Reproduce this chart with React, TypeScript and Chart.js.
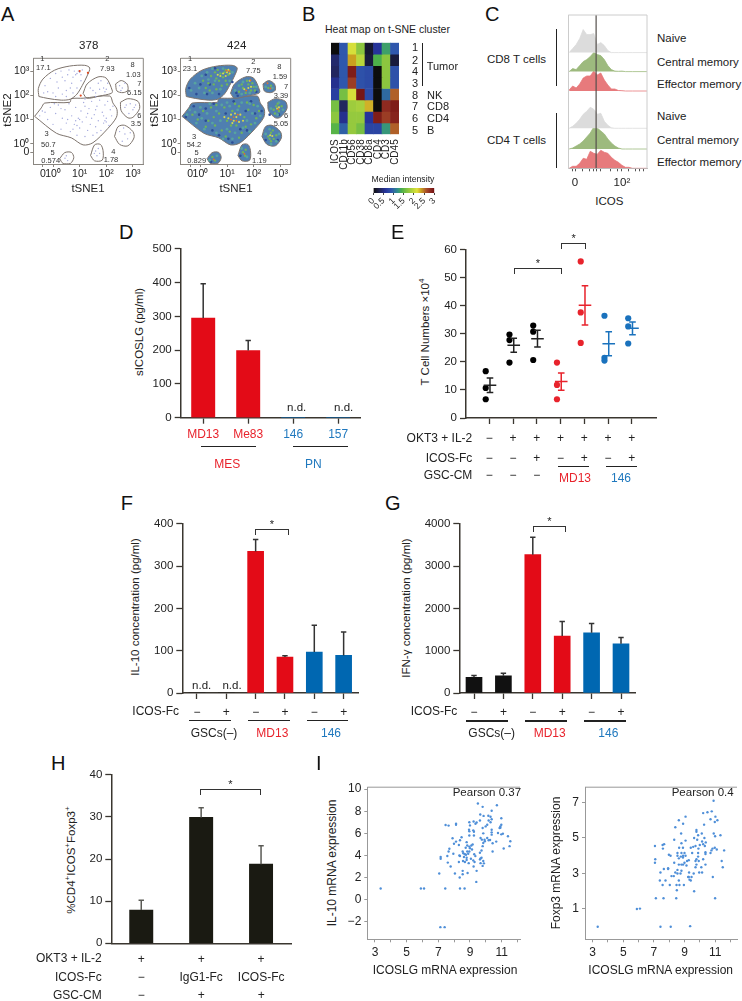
import React, { useEffect, useMemo, useRef } from "react";
import { Chart, registerables } from "chart.js";

Chart.register(...registerables);
const FONT = '"Liberation Sans", Arial, sans-serif';
Chart.defaults.font.family = FONT;

/* ---------- Panel A ---------- */
const decadeTicksX = [-0.38, 0, 1, 2, 3];
const decadeTicksY = [-0.36, 0, 1, 2, 3];
const decadeLabels = ["0", "10⁰", "10¹", "10²", "10³"];
const gate1 = [[-0.53,1.95],[-0.55,2.28],[-0.38,2.67],[0.06,3.04],[0.63,3.21],[1.19,3.24],[1.38,3.13],[1.28,2.8],[1.1,2.41],[0.9,2.05],[0.65,1.84],[0.31,1.8],[-0.19,1.87],[-0.53,1.95]];
const gate2 = [[1.13,2.08],[1.28,2.47],[1.69,2.76],[2.0,2.71],[2.23,2.18],[2.19,2.08],[1.75,1.97],[1.28,1.88],[1.13,2.08]];
const gate3 = [[-0.69,1.13],[-0.44,1.48],[-0.31,1.68],[0.63,1.71],[0.69,1.86],[1.13,1.88],[2.13,1.97],[2.25,1.68],[2.4,1.42],[2.38,1.09],[2.06,0.63],[1.5,0.04],[1.13,-0.05],[0.69,0.24],[0.13,0.43],[-0.69,1.13]];
const gate8 = [[2.35,2.47],[2.56,2.61],[2.78,2.47],[2.81,2.21],[2.63,2.11],[2.4,2.18],[2.35,2.47]];
const gate7 = [[2.53,1.71],[2.81,1.86],[3.19,1.75],[3.25,1.45],[3.0,1.09],[2.81,1.07],[2.56,1.36],[2.53,1.71]];
const gate6 = [[2.31,0.3],[2.44,0.7],[2.69,0.76],[3.0,0.5],[3.04,0.24],[2.81,-0.09],[2.5,-0.03],[2.31,0.3]];
const gate4 = [[1.41,-0.49],[1.56,-0.05],[1.78,-0.03],[1.88,-0.29],[1.85,-0.68],[1.56,-0.71],[1.41,-0.49]];
const gate5 = [[0.25,-0.62],[0.44,-0.37],[0.69,-0.36],[0.78,-0.58],[0.65,-0.82],[0.38,-0.82],[0.25,-0.62]];
const allGates = [gate1, gate2, gate3, gate8, gate7, gate6, gate4, gate5];
const sparse378 = [[-0.3,2.4],[-0.1,2.7],[0.1,2.9],[0.3,3.0],[0.45,2.6],[0.2,2.3],[0.0,2.1],[-0.2,2.15],[0.5,2.2],[0.7,2.5],[0.85,2.85],[0.95,3.0],[1.0,2.95],[0.9,2.9],[1.05,2.85],[1.1,3.05],[0.8,3.0],[0.6,3.05],[0.35,2.75],[0.55,2.85],[0.65,2.3],[0.35,2.05],[0.15,2.55],[-0.35,2.1],[0.9,2.3],[0.75,2.1],[0.5,1.95],[0.1,1.95],[1.05,2.6],[0.75,2.75],[1.5,2.2],[1.7,2.5],[1.9,2.3],[2.0,2.25],[1.95,2.15],[1.6,2.1],[1.8,2.6],[1.4,2.3],[2.05,2.5],[1.75,2.25],[-0.5,1.15],[-0.3,1.3],[-0.2,1.0],[-0.1,1.5],[0.0,0.8],[0.1,1.25],[0.2,1.6],[0.3,0.6],[0.35,1.05],[0.45,1.4],[0.5,0.85],[0.6,1.65],[0.65,0.5],[0.7,1.15],[0.8,0.8],[0.85,1.5],[0.9,0.35],[0.95,1.05],[1.0,0.65],[1.05,1.35],[1.1,0.9],[1.15,1.7],[1.2,0.3],[1.25,1.1],[1.3,0.55],[1.35,1.45],[1.4,0.8],[1.45,1.75],[1.5,0.35],[1.55,1.2],[1.6,0.7],[1.65,1.55],[1.7,0.95],[1.75,1.8],[1.8,0.55],[1.85,1.3],[1.9,0.85],[1.95,1.6],[2.0,1.05],[2.05,1.75],[2.1,0.75],[2.15,1.4],[2.2,1.15],[2.25,1.55],[0.05,1.65],[-0.4,1.35],[0.55,1.0],[0.75,0.6],[1.0,1.0],[1.2,1.55],[1.45,1.05],[1.65,0.45],[1.9,1.15],[1.95,0.95],[2.0,0.9],[0.85,0.95],[0.9,0.75],[0.3,1.45],[1.3,1.25],[1.6,1.4],[2.5,2.4],[2.6,2.3],[2.7,2.5],[2.55,2.2],[2.7,1.5],[2.9,1.65],[3.0,1.4],[3.1,1.6],[2.85,1.25],[3.05,1.5],[2.75,1.6],[2.5,0.5],[2.7,0.4],[2.8,0.2],[2.6,0.1],[2.9,0.45],[2.65,0.65],[1.6,-0.3],[1.7,-0.2],[1.65,-0.5],[1.75,-0.4],[1.55,-0.4],[0.45,-0.6],[0.5,-0.5],[0.55,-0.7],[1.6,1.95],[1.2,1.85]];
const hot378 = [[1.31,2.93],[1.04,1.99],[1.0,3.0]];
const teal424 = [[-0.35,2.2],[-0.2,2.5],[-0.05,2.3],[0.05,2.8],[0.25,2.95],[0.15,2.1],[0.45,2.1],[0.75,2.25],[0.55,2.6],[0.3,2.65],[1.1,2.6],[1.2,2.95],[0.85,3.1],[0.45,3.1],[1.3,2.2],[1.45,2.4],[1.6,2.55],[1.85,2.1],[2.1,2.35],[1.55,2.05],[-0.5,1.2],[-0.4,1.4],[-0.2,1.3],[-0.15,0.85],[0,1.5],[0.05,1.05],[0.15,0.6],[0.25,1.25],[0.35,1.65],[0.45,0.85],[0.6,0.45],[0.6,1.35],[0.75,0.95],[0.8,1.6],[0.85,0.2],[1,0.6],[1,1.7],[1.1,1.55],[1.2,0.2],[1.3,0.45],[1.4,1.4],[1.55,1.7],[1.6,0.65],[1.75,0.95],[1.85,1.65],[1.95,1.25],[2.05,0.85],[2.15,1.55],[2.25,1.15],[1.85,0.5],[2.65,1.45],[2.95,1.7],[3.1,1.4],[2.9,1.2],[2.45,0.4],[2.6,0.6],[2.85,0.1],[2.95,0.4],[2.65,-0.02],[2.45,2.35],[2.7,2.3],[1.55,-0.2],[1.75,-0.55],[0.35,-0.68],[0.62,-0.5]];
const navy424 = [[-0.42,2.3],[-0.15,2.05],[0.0,2.45],[0.25,2.05],[0.35,2.45],[0.7,2.05],[0.2,2.85],[0.55,3.12],[1.2,2.55],[1.35,2.1],[2.1,2.15],[1.4,1.98],[-0.55,1.1],[-0.25,1.55],[-0.05,1.2],[0.2,0.95],[0.2,1.45],[0.45,0.55],[0.5,1.65],[0.7,0.35],[0.95,1.25],[1.05,0.2],[1.25,1.75],[1.5,0.6],[1.7,1.35],[1.9,1.75],[2.05,1.25],[2.3,1.35],[1.75,0.55],[1.2,0.05],[2.95,1.2],[2.6,1.2],[2.45,0.15],[2.9,0.15],[1.5,-0.5],[0.4,-0.75]];
const green424 = [[0.3,2.5],[0.5,2.45],[0.6,2.7],[0.7,2.6],[0.85,2.75],[0.95,2.6],[0.4,2.8],[0.55,2.95],[0.75,2.9],[0.9,2.95],[1.05,2.85],[1.1,3.0],[0.8,2.4],[0.6,2.25],[0.2,2.3],[0.1,2.6],[1.0,2.45],[0.65,3.05],[0.35,2.2],[0.95,3.05],[1.45,2.15],[1.6,2.3],[1.7,2.1],[1.8,2.45],[1.9,2.2],[2.0,2.35],[1.55,2.45],[1.75,2.6],[1.95,2.5],[2.05,2.2],[-0.3,1.2],[-0.1,1.0],[0.1,1.35],[0.3,0.95],[0.4,1.5],[0.55,0.75],[0.7,1.25],[0.8,0.55],[0.9,1.5],[1.0,0.95],[1.1,0.5],[1.2,1.35],[1.35,0.75],[1.45,1.55],[1.55,0.45],[1.65,1.1],[1.8,1.4],[1.9,0.8],[2.0,1.6],[2.1,1.05],[0.2,0.7],[0.6,1.6],[1.3,1.65],[1.7,0.7],[2.2,1.35],[0.95,0.3],[1.45,0.25],[0.5,1.1],[1.15,0.75],[1.75,1.7],[2.75,1.4],[2.85,1.55],[2.95,1.35],[3.05,1.55],[2.8,1.25],[2.9,1.65],[2.55,0.3],[2.65,0.45],[2.75,0.2],[2.85,0.35],[2.65,0.1],[2.72,0.55],[2.6,0.2],[2.55,2.3],[2.65,2.4],[1.6,-0.35],[1.7,-0.25],[1.68,-0.5],[0.45,-0.55],[0.55,-0.7]];
const yellow424 = [[0.75,2.8],[0.85,2.9],[0.95,2.8],[1.05,3.05],[1.0,2.95],[0.65,2.85],[1.1,2.9],[1.65,2.25],[1.8,2.3],[1.9,2.35],[1.85,2.6],[1.05,1.05],[1.15,1.2],[1.25,0.95],[1.35,1.1],[1.45,0.9],[1.3,1.25],[1.5,1.2],[1.2,0.85],[0.9,1.1],[1.6,0.95],[2.88,1.45],[2.95,1.5],[2.7,0.32],[2.62,0.35]];
const orange424 = [[1.08,3.0],[0.98,3.02],[1.88,2.62],[1.72,2.2],[1.25,1.1],[1.35,0.95],[1.4,1.2],[1.15,1.0],[2.92,1.42],[2.63,2.28],[2.52,2.5],[1.65,-0.42],[0.5,-0.65]];
const gateLabels378 = [["1",42.3,59],["17.1",43.3,68.3],["2",107.3,59.3],["7.93",107.3,69.3],["8",132.7,65],["1.03",133.3,75],["7",139.3,84.3],["6.15",134.3,93.3],["6",139.3,116],["3.5",136,124],["3",46.7,134.3],["50.7",48.3,144.7],["5",52.7,153.3],["0.574",50.7,161.3],["4",113.3,152.3],["1.78",111,160.3]];
const gateLabels424 = [["1",190,59.3],["23.1",190,69],["2",253.3,62],["7.75",253.3,71.3],["8",279.3,66.7],["1.59",280,76.7],["7",286,86.7],["3.39",281,96],["6",286,115.7],["5.05",281,124],["3",194,136.7],["54.2",194,145.3],["5",196.7,153.3],["0.829",196.7,161.3],["4",259.3,152.7],["1.19",259.3,161.3]];

/* ---------- Panel B ---------- */
const heatColumns = ["ICOS", "CD11b", "CD56", "CD38", "CD8a", "CD4", "CD3", "CD45"];
const heatRowNames = ["1", "2", "4", "3", "8", "7", "6", "5"];
const heatValues = [
  [0.0, 0.9, 2.1, 1.7, 0.15, 0.6, 1.3, 0.9],
  [0.4, 0.9, 2.35, 1.95, 0.2, 1.4, 1.7, 0.2],
  [0.35, 0.9, 2.9, 0.85, 0.8, 0.0, 1.7, 0.85],
  [0.55, 0.9, 2.7, 0.85, 0.8, 0.0, 1.7, 0.85],
  [0.7, 1.6, 2.1, 2.95, 0.8, 0.0, 1.0, 2.55],
  [1.6, 0.35, 1.8, 1.85, 2.3, 0.0, 2.8, 2.9],
  [1.7, 0.55, 1.75, 1.75, 0.6, 2.9, 2.7, 2.85],
  [1.45, 0.95, 1.75, 1.6, 0.75, 0.75, 1.25, 2.55],
];
const colorStops: [number, number[]][] = [
  [0, [13, 13, 13]], [0.35, [34, 38, 95]], [0.6, [38, 51, 154]], [0.9, [47, 87, 172]], [1.2, [47, 143, 138]],
  [1.4, [77, 176, 74]], [1.7, [140, 198, 63]], [2.0, [194, 217, 58]], [2.15, [224, 226, 58]], [2.35, [202, 160, 32]],
  [2.6, [169, 80, 42]], [2.8, [142, 42, 32]], [3, [112, 16, 16]],
];
const colorBarTicks = ["0", "0.5", "1", "1.5", "2", "2.5", "3"];

/* ---------- Panel C ---------- */
const histBins = [-0.25, -0.1, 0.05, 0.2, 0.35, 0.5, 0.65, 0.8, 0.95, 1.1, 1.25, 1.4, 1.55, 1.7, 1.85, 2.0, 2.15, 2.3, 2.45, 3.07];
const cd8Naive = [0, 4, 8, 14, 23, 18, 18, 19, 8, 10, 7, 2, 0, 0, 0, 0, 0, 0, 0, 0];
const cd8Central = [0, 3, 2, 6, 10, 12, 15, 19, 17, 16, 12, 6, 2, 0.5, 0.3, 0.5, 0, 0, 0, 0];
const cd8Effector = [1, 5, 3, 7, 13, 15, 15, 20, 16, 18, 11, 6, 2, 2, 0.5, 0.3, 0, 0, 0, 0];
const cd4Naive = [0, 2, 5, 9, 14, 17, 21, 19, 14, 15, 7, 3, 0.5, 0, 0, 0, 0, 0, 0, 0];
const cd4Central = [0, 1, 3, 5, 8, 12, 16, 22, 21, 18, 15, 10, 6, 3, 1, 0, 0, 0, 0, 0];
const cd4Effector = [0, 2, 2, 5, 10, 9, 17, 15, 14, 18, 16, 15, 11, 8, 6, 3, 1, 1, 0, 0];
const histMinorTicks = [-0.1, 0, 0.3, 0.6, 0.8, 0.9, 1.1, 1.5, 1.8, 2, 2.3, 2.6, 2.75, 2.9];
const icosCutoff = 0.9;

/* ---------- Panel D ---------- */
const sicosCategories = ["MD13", "Me83", "146", "157"];
const sicosValues = [295, 199, 0, 0];
const sicosErrors = [102, 30, 0, 0];

/* ---------- Panel E ---------- */
const okt3Row = ["−", "+", "+", "+", "+", "+", "+"];
const icosFcRow = ["−", "−", "+", "−", "+", "−", "+"];
const gscCmRow = ["−", "−", "−"];
const tcellGroups = [[16.7, 10.7, 6.7], [29.8, 27.8, 19.8], [33, 30.8, 20.7], [19.8, 11.8, 6.7], [55.9, 37.7, 26.8], [36.5, 21.5, 20.5], [35.6, 32.7, 26.6]];
const tcellMeans = [11.7, 26, 28.3, 13, 40.2, 26.5, 32];
const tcellSem = [2.6, 2.5, 3, 3.1, 7, 4.3, 2.3];

/* ---------- Panels F, G ---------- */
const icosRow = ["−", "+", "−", "+", "−", "+"];
const il10Values = [0, 0, 335, 85, 97, 89];
const il10Errors = [0, 0, 28, 3, 63, 55];
const ifnValues = [370, 407, 3272, 1346, 1425, 1166];
const ifnErrors = [45, 63, 415, 344, 219, 149];

/* ---------- Panel H ---------- */
const hOkt3 = ["+", "+", "+"];
const hIcos = ["−", "IgG1-Fc", "ICOS-Fc"];
const hGsc = ["−", "+", "+"];
const foxpValues = [7.9, 29.9, 18.8];
const foxpErrors = [2.3, 2.3, 4.4];

/* ---------- Panel I ---------- */
const il10Scatter = [[3.36,1],[5.9,1],[6.1,1],[7.44,1],[8.37,1],[8.66,1],[7.13,-2.5],[7.4,-2.5],[7.06,2.36],[8.05,2.36],[8.35,2],[8.54,2.3],[8.54,2.6],[9.4,1.6],[8.85,2.4],[9.42,2.6],[9.23,3],[9.8,3.05],[7.46,6.75],[7.65,6.7],[8.12,6.87],[8.12,6.78],[7.15,3.85],[7.15,3.7],[7.6,3.35],[7.78,3],[7.57,3.95],[7.7,4.6],[7.65,4.35],[7.95,4.15],[7.9,5.55],[7.99,5.05],[8.12,5.25],[8.37,5.37],[8.47,5.64],[8.3,4.95],[8.33,4],[8.37,3.95],[8.3,3.4],[8.56,3.5],[8.68,3.4],[8.54,4.35],[8.58,4.2],[8.68,4.1],[8.62,3.85],[8.79,3.79],[8.79,3.58],[8.92,3.3],[8.73,4.7],[8.83,4.9],[8.96,4.8],[8.79,5.2],[9.09,4.9],[9.17,5],[9,4.66],[9.13,4.54],[8.96,4.36],[8.83,4.36],[8.89,4.15],[8.75,4.06],[9.06,3.7],[9.21,3.55],[9.29,3.4],[9.67,3.3],[8.96,7],[9,6.72],[8.94,6.33],[8.96,6.18],[9.21,6.27],[9.25,6.15],[8.96,5.8],[9.25,5.8],[9.23,7.07],[9.42,6.98],[9.35,6.87],[9.63,7.16],[9.65,7.7],[9.86,7.58],[9.5,8.7],[9.8,8.4],[10.37,8.05],[10.7,8.55],[10.16,7.6],[10.3,7.5],[10.37,7.28],[10.18,7.16],[10.3,7],[10.09,6.78],[9.8,6.48],[9.99,6.63],[10.37,6.33],[10.37,6.09],[10.37,5.88],[9.84,6],[10.09,5.58],[9.92,5.43],[9.67,5.58],[9.75,5.43],[9.84,5.13],[9.94,5.28],[9.8,4.84],[9.73,4.45],[9.63,4.24],[9.73,3.79],[9.63,3.64],[9.84,3.49],[9.88,3.28],[9.27,4.1],[9.34,3.94],[9.67,3.73],[10.98,7.37],[10.98,6.78],[10.92,6.63],[10.87,6.48],[10.77,6.03],[10.98,5.91],[11.08,5.97],[11.4,5.73],[11.55,5.28],[11.5,4.84],[11.13,4.63],[10.43,4.36],[10.92,6.5],[10.66,5.25],[10.43,5.1],[10.27,5.4],[10.18,5.37]];
const foxp3Scatter = [[3.33,0],[5.89,1],[6.09,1.02],[7.43,0],[8.1,0],[9.37,0.03],[7.13,1.6],[7.63,1.6],[8.46,1.6],[11,1.6],[7.07,4.55],[7.57,4.6],[7.67,4.65],[7.59,4.4],[7.09,3.8],[7.07,3.6],[7.43,3.05],[7.65,3.25],[7.93,3.25],[7.93,3.3],[7.39,2.6],[7.76,2.6],[7.57,2.35],[8.04,2.35],[7.98,4.05],[8.09,4],[8.15,2.85],[8.3,2.85],[8.4,3.05],[8.63,2.6],[8.48,2.35],[8.67,2.35],[8.96,2.35],[8.5,2.05],[8.33,4.9],[8.4,5.6],[8.63,6],[8.78,5.25],[8.91,5.8],[9.07,6.2],[9.07,4.85],[8.8,4.7],[8.65,4.45],[8.9,4.45],[8.54,4.15],[8.54,4],[8.63,3.85],[8.8,4.15],[9,4.15],[8.76,3.95],[8.91,4],[9.07,4],[8.9,3.9],[8.33,3.6],[8.63,3.5],[8.8,3.5],[8.91,3.5],[9,3.6],[9.17,3.7],[9.28,3.75],[9.13,3.45],[8.54,3.2],[8.8,3.15],[8.54,3],[8.74,3],[9.3,3.05],[9.6,3],[9.28,2.8],[9.46,2.8],[9.24,2.8],[9.41,2.6],[9.33,2.65],[9.63,2],[9.41,4.45],[9.57,4.5],[9.72,4.55],[9.63,5],[9.78,5.45],[9.78,5.35],[9.83,4.9],[9.91,4.4],[9.5,4.15],[9.78,3.8],[9.72,3.7],[9.78,3.5],[9.72,3.35],[9.89,4.15],[9.89,3.95],[9.93,3.7],[10.1,3.35],[9.96,3.05],[10.15,3.05],[9.89,5.15],[10.13,5.25],[10.3,5],[10.39,4.75],[10.15,4.8],[10.22,4.65],[10,4.6],[10.33,4.55],[10.37,4.2],[10.37,4.1],[10.22,3.8],[10.37,3.5],[10.76,4.3],[10.7,4.15],[10.83,4.4],[10.22,6.4],[10.5,6.45],[10.78,6.5],[10.7,6.05],[10.98,5.9],[11.02,6.2],[11.15,6],[10.28,5.75],[10.91,5.25],[11,5.1],[11.35,5.15],[10.98,4.45],[11.11,4.35],[11.59,4.3],[11.43,3.7],[11.5,3.35],[10.85,2.8],[10.9,7.1]];

/* ---------- colours ---------- */
const RED = "#e30b17", BLUE = "#0067b1", LRED = "#e8232c", LBLUE = "#1f78be", INK = "#222", AXIS = "#3a3630";

function heatColor(v: number) {
  for (let i = 1; i < colorStops.length; i++) {
    if (v <= colorStops[i][0]) {
      const [a, ca] = colorStops[i - 1], [b, cb] = colorStops[i];
      const t = (v - a) / (b - a);
      const m = ca.map((c, k) => Math.round(c + (cb[k] - c) * t));
      return `rgb(${m[0]},${m[1]},${m[2]})`;
    }
  }
  return "rgb(112,16,16)";
}
const pts = (a: number[][]) => a.map(([x, y]) => ({ x, y }));

/* ---------- plugins ---------- */
const errPlugin = {
  id: "errs",
  afterDatasetsDraw(chart: any) {
    const c = chart.ctx, ys = chart.scales.y;
    chart.data.datasets.forEach((ds: any, i: number) => {
      if (!ds.errs) return;
      const meta = chart.getDatasetMeta(i);
      c.save();
      c.strokeStyle = ds.errColor || "#333";
      c.lineWidth = 1.5;
      meta.data.forEach((el: any, j: number) => {
        const e = ds.errs[j];
        if (!e) return;
        const v = typeof ds.data[j] === "number" ? ds.data[j] : ds.data[j].y;
        const x = el.x, top = ys.getPixelForValue(v + e), cap = ds.capHalf || 2.5;
        const bot = ds.errBoth ? ys.getPixelForValue(v - e) : ys.getPixelForValue(v);
        c.beginPath();
        c.moveTo(x, bot); c.lineTo(x, top);
        c.moveTo(x - cap, top); c.lineTo(x + cap, top);
        if (ds.errBoth) {
          c.moveTo(x - cap, bot); c.lineTo(x + cap, bot);
          const my = ys.getPixelForValue(v);
          c.moveTo(x - 6.3, my); c.lineTo(x + 6.3, my);
        }
        c.stroke();
      });
      c.restore();
    });
  },
};
const framePlugin = (color: string, sides: string) => ({
  id: "frame",
  afterDatasetsDraw(chart: any) {
    const a = chart.chartArea, c = chart.ctx;
    c.save(); c.strokeStyle = color; c.lineWidth = 1; c.beginPath();
    if (sides.includes("t")) { c.moveTo(a.left, a.top); c.lineTo(a.right, a.top); }
    if (sides.includes("r")) { c.moveTo(a.right, a.top); c.lineTo(a.right, a.bottom); }
    c.stroke(); c.restore();
  },
});

/* ---------- chart specs ---------- */
type Spec = { plot: number[]; m: number[]; config: any };
const tickFont = (size = 11.5) => ({ size, family: FONT });
const yAxis = (min: number, max: number, step: number) => ({
  type: "linear", min, max,
  ticks: { stepSize: step, color: INK, font: tickFont(), padding: 3, callback: (v: number) => String(v) },
  grid: { display: true, drawOnChartArea: false, drawTicks: true, tickLength: 6, tickColor: AXIS, tickWidth: 1.3 },
  border: { display: true, color: AXIS, width: 1.5 },
});
const bandAxis = (labels: string[], colors: any, padding: number, marks: boolean, size = 12) => ({
  type: "category", labels,
  ticks: { color: colors, padding, font: tickFont(size), maxRotation: 0, autoSkip: false },
  grid: marks
    ? { display: true, offset: false, drawOnChartArea: false, drawTicks: true, tickLength: 6, tickColor: AXIS, tickWidth: 1.3 }
    : { display: false, drawTicks: false, tickLength: 0 },
  border: { display: true, color: AXIS, width: 1.5 },
});
function barSpec(plot: number[], m: number[], labels: string[], values: number[], errs: number[], colors: string[], yMax: number, step: number, thick: number, xAxisCfg: any, errColor = "#333"): Spec {
  return {
    plot, m,
    config: {
      type: "bar",
      data: { labels, datasets: [{ data: values, errs, errColor, backgroundColor: colors, barThickness: thick, borderWidth: 0, capHalf: 2.7 }] },
      options: { scales: { x: xAxisCfg, y: yAxis(0, yMax, step) } },
      plugins: [errPlugin],
    },
  };
}
const flowAxes = () => ({
  x: {
    type: "linear", min: -0.74, max: 3.39,
    afterBuildTicks: (s: any) => { s.ticks = decadeTicksX.map((value) => ({ value })); },
    ticks: { callback: (_: any, i: number) => decadeLabels[i], color: INK, font: tickFont(10.5), padding: 1, maxRotation: 0, autoSkip: false },
    grid: { display: true, drawOnChartArea: false, tickLength: 3, tickColor: "#8a8680" },
    border: { display: true, color: "#8a8680", width: 1 },
  },
  y: {
    type: "linear", min: -0.84, max: 3.53,
    afterBuildTicks: (s: any) => { s.ticks = decadeTicksY.map((value) => ({ value })); },
    ticks: { callback: (_: any, i: number) => decadeLabels[i], color: INK, font: tickFont(10.5), padding: 1, autoSkip: false },
    grid: { display: true, drawOnChartArea: false, tickLength: 3, tickColor: "#8a8680" },
    border: { display: true, color: "#8a8680", width: 1 },
  },
});
const gateSets = (fill: string | null) =>
  allGates.map((g) => ({
    type: "scatter", data: pts(g), showLine: true, tension: 0.3, pointRadius: 0,
    borderColor: "#7d736c", borderWidth: 1,
    fill: fill ? "shape" : false, backgroundColor: fill || "transparent", order: 9,
  }));
const dots = (a: number[][], color: string, r: number, order = 1) => ({
  type: "scatter", data: pts(a), backgroundColor: color, borderWidth: 0, pointRadius: r, order,
});
const scatterSpec = (plot: number[], m: number[], data: number[][], xr: number[], yr: number[], yt: number[]): Spec => ({
  plot, m,
  config: {
    type: "scatter",
    data: { datasets: [{ data: pts(data), backgroundColor: "#4f8fd8", borderWidth: 0, pointRadius: 1.2 }] },
    options: {
      scales: {
        x: {
          type: "linear", min: xr[0], max: xr[1],
          afterBuildTicks: (s: any) => { s.ticks = [3, 4, 5, 6, 7, 8, 9, 10, 11, 12].map((value) => ({ value })); },
          ticks: { callback: (v: number) => (v % 2 ? String(v) : ""), color: INK, font: tickFont(12), padding: 3, maxRotation: 0, autoSkip: false },
          grid: { display: true, drawOnChartArea: false, tickLength: 3, tickColor: "#999" },
          border: { display: true, color: "#999", width: 1 },
        },
        y: {
          type: "linear", min: yr[0], max: yr[1],
          afterBuildTicks: (s: any) => { s.ticks = yt.map((value) => ({ value })); },
          ticks: { callback: (v: number) => String(v).replace("-", "−"), color: INK, font: tickFont(12), padding: 3, autoSkip: false },
          grid: { display: true, drawOnChartArea: false, tickLength: 3, tickColor: "#999" },
          border: { display: true, color: "#999", width: 1 },
        },
      },
    },
    plugins: [framePlugin("#999", "t")],
  },
});

function buildSpecs(): Spec[] {
  const specs: Spec[] = [];
  // A
  specs.push({
    plot: [33.3, 53.3, 143.3, 164], m: [33, 2, 6, 18],
    config: {
      type: "scatter",
      data: { datasets: [...gateSets(null), dots(sparse378, "#a4a9dd", 0.7), dots(hot378, "#e04a20", 1.1, 0)] },
      options: { scales: flowAxes() },
      plugins: [framePlugin("#8a8680", "tr")],
    },
  });
  specs.push({
    plot: [180.7, 53.3, 290.7, 164], m: [33, 2, 6, 18],
    config: {
      type: "scatter",
      data: {
        datasets: [
          ...gateSets("#4f7fb0"),
          dots(navy424, "#2c4d96", 1.3, 6), dots(teal424, "#57a3a0", 1.4, 5),
          dots(green424, "#6fb45c", 1.2, 3), dots(yellow424, "#d7d84a", 1.05, 2), dots(orange424, "#e0702c", 0.95, 1),
        ],
      },
      options: { scales: flowAxes() },
      plugins: [framePlugin("#8a8680", "tr")],
    },
  });
  // B heat map
  specs.push({
    plot: [331, 42.7, 408, 134.3], m: [4, 2, 4, 38],
    config: {
      type: "bar",
      data: {
        labels: heatColumns,
        datasets: heatValues.map((row, r) => ({
          label: heatRowNames[r],
          data: row.map(() => [r, r + 1]),
          backgroundColor: row.map(heatColor),
          borderWidth: 0,
          grouped: false,
          barPercentage: 1,
          categoryPercentage: 1,
        })),
      },
      options: {
        scales: {
          x: {
            type: "category",
            ticks: { minRotation: 90, maxRotation: 90, autoSkip: false, color: INK, font: tickFont(10), padding: 5 },
            grid: { display: false, drawTicks: false, tickLength: 0 },
            border: { display: false },
          },
          y: {
            type: "linear", min: 0, max: 8, reverse: true,
            ticks: { display: false },
            grid: { display: false, drawTicks: false, tickLength: 0 },
            border: { display: false },
          },
        },
      },
    },
  });
  // B colour bar
  specs.push({
    plot: [373.3, 188, 434.3, 193], m: [12, 1, 12, 24],
    config: {
      type: "bar",
      data: {
        labels: ["Median intensity"],
        datasets: [{
          data: [[0, 3]], barPercentage: 1, categoryPercentage: 1, borderWidth: 0,
          backgroundColor: (c: any) => {
            const a = c.chart.chartArea;
            if (!a) return "#000";
            const g = c.chart.ctx.createLinearGradient(a.left, 0, a.right, 0);
            colorStops.forEach(([v, col]) => g.addColorStop(v / 3, `rgb(${col.join(",")})`));
            return g;
          },
        }],
      },
      options: {
        indexAxis: "y",
        scales: {
          x: {
            type: "linear", min: 0, max: 3,
            afterBuildTicks: (s: any) => { s.ticks = colorBarTicks.map((t) => ({ value: Number(t) })); },
            ticks: { callback: (_: any, i: number) => colorBarTicks[i], minRotation: 45, maxRotation: 45, autoSkip: false, color: INK, font: tickFont(8.5), padding: 1 },
            grid: { display: true, drawOnChartArea: false, tickLength: 2, tickColor: "#444" },
            border: { display: false },
          },
          y: { type: "category", ticks: { display: false }, grid: { display: false, drawTicks: false, tickLength: 0 }, border: { display: false } },
        },
      },
    },
  });
  // C ridgelines
  const ridges = [
    [cd8Naive, 115.7, "#dcdcdc"], [cd8Central, 96.7, "#9dba7e"], [cd8Effector, 77.3, "#e77a7c"],
    [cd4Naive, 40, "#dcdcdc"], [cd4Central, 19.3, "#9dba7e"], [cd4Effector, 0, "#e77a7c"],
  ] as [number[], number, string][];
  specs.push({
    plot: [568.3, 15, 647, 168.3], m: [6, 2, 8, 24],
    config: {
      type: "scatter",
      data: {
        datasets: [
          ...ridges.map(([h, base, color]) => ({
            type: "scatter", showLine: true, pointRadius: 0, tension: 0,
            data: histBins.map((x, i) => ({ x, y: base + h[i] })),
            borderColor: color, borderWidth: 0.8, backgroundColor: color, fill: { value: base }, order: 5,
          })),
          { type: "scatter", showLine: true, pointRadius: 0, data: [{ x: icosCutoff, y: 0 }, { x: icosCutoff, y: 153.3 }], borderColor: "#55504c", borderWidth: 1.2, order: 1 },
        ],
      },
      options: {
        scales: {
          x: {
            type: "linear", min: -0.286, max: 3.07,
            afterBuildTicks: (s: any) => { s.ticks = histMinorTicks.map((value) => ({ value })); },
            ticks: { callback: (v: number) => (v === 0 ? "0" : v === 2 ? "10²" : ""), color: INK, font: tickFont(11.5), padding: 5, maxRotation: 0, autoSkip: false },
            grid: { display: true, drawOnChartArea: false, tickLength: 3, tickColor: "#555" },
            border: { display: true, color: "#bbb", width: 1 },
          },
          y: {
            type: "linear", min: 0, max: 153.3,
            ticks: { display: false },
            grid: { display: false, drawTicks: false, tickLength: 0 },
            border: { display: true, color: "#ccc", width: 1 },
          },
        },
      },
      plugins: [framePlugin("#ccc", "tr")],
    },
  });
  // D
  specs.push(barSpec([180.7, 247.7, 360.7, 417.7], [30, 8, 6, 24], sicosCategories, sicosValues, sicosErrors, [RED, RED, BLUE, BLUE], 500, 100, 23.3,
    bandAxis(sicosCategories, [LRED, LRED, LBLUE, LBLUE], 4, true)));
  // E
  const groupColor = (i: number) => (i < 3 ? "#000" : i < 5 ? LRED : "#1a72bd");
  const e: any[] = [];
  tcellGroups.forEach((g, i) => {
    e.push({ type: "scatter", data: g.map((y) => ({ x: i + 1 - 0.15, y })), backgroundColor: groupColor(i), borderWidth: 0, pointRadius: 3.1 });
    e.push({ type: "scatter", data: [{ x: i + 1.03, y: tcellMeans[i] }], pointRadius: 0, errs: [tcellSem[i]], errBoth: true, errColor: i < 3 ? "#222" : groupColor(i), capHalf: 3.3 });
  });
  specs.push({
    plot: [466, 248.3, 656, 418], m: [28, 8, 6, 26],
    config: {
      type: "scatter",
      data: { datasets: e },
      options: {
        scales: {
          x: {
            type: "linear", min: 0.02, max: 8.02,
            afterBuildTicks: (s: any) => { s.ticks = okt3Row.map((_, i) => ({ value: i + 1 })); },
            ticks: { callback: (_: any, i: number) => okt3Row[i], color: INK, font: tickFont(12), padding: 7, maxRotation: 0, autoSkip: false },
            grid: { display: true, drawOnChartArea: false, tickLength: 6, tickColor: AXIS, tickWidth: 1.3 },
            border: { display: true, color: AXIS, width: 1.5 },
          },
          y: yAxis(0, 60, 10),
        },
      },
      plugins: [errPlugin],
    },
  });
  // F, G
  const fg = ["#111", "#111", RED, RED, BLUE, BLUE];
  specs.push(barSpec([182.3, 522.7, 358.3, 693], [30, 8, 6, 26], icosRow, il10Values, il10Errors, fg, 400, 100, 16, bandAxis(icosRow, INK, 6, true)));
  specs.push(barSpec([459.3, 522.7, 635.7, 693], [36, 8, 6, 26], icosRow, ifnValues, ifnErrors, fg, 4000, 1000, 16, bandAxis(icosRow, INK, 6, true)));
  // H
  specs.push(barSpec([111.3, 773.7, 291, 943.3], [30, 8, 6, 24], hOkt3, foxpValues, foxpErrors, ["#1a1a12", "#1a1a12", "#1a1a12"], 40, 10, 23.3, bandAxis(hOkt3, INK, 9, false), "#5a5a55"));
  // I
  specs.push(scatterSpec([367.3, 785.7, 520, 939.3], [26, 8, 4, 20], il10Scatter, [2.516, 12.16], [-3.6, 10.18], [-2, 0, 2, 4, 6, 8, 10]));
  specs.push(scatterSpec([585, 785.7, 737, 939.3], [26, 8, 4, 20], foxp3Scatter, [2.5, 12.43], [-0.71, 7.86], [1, 3, 5, 7]));
  return specs;
}

function geometry(s: Spec) {
  const [l, t, r, b] = s.plot, [mL, mT, mR, mB] = s.m;
  const left = Math.floor(l) - mL, top = Math.floor(t) - mT;
  const width = Math.ceil(r - left + mR), height = Math.ceil(b - top + mB);
  return { left, top, width, height, plotLeft: l - left, plotTop: t - top, padRight: width - (r - left), bottomH: height - (b - top) };
}

/* ---------- annotation helpers ---------- */
const T = ({ x, y, s = 12, c = INK, a = "c", r = 0, children }: any) => (
  <div style={{
    position: "absolute", left: x, top: y, fontSize: s, color: c, lineHeight: 1, whiteSpace: "nowrap", fontFamily: FONT,
    transform: `translate(${a === "l" ? "0" : a === "r" ? "-100%" : "-50%"},-50%) rotate(${r}deg)`,
  }}>{children}</div>
);
const Rule = ({ x1, x2, y, c = "#222", h = 1.2 }: any) => (
  <div style={{ position: "absolute", left: x1, top: y - h / 2, width: x2 - x1, height: h, background: c }} />
);
const VRule = ({ x, y1, y2, w = 1.5 }: any) => (
  <div style={{ position: "absolute", left: x - w / 2, top: y1, width: w, height: y2 - y1, background: "#222" }} />
);
const Bracket = ({ x1, x2, y }: any) => (
  <>
    <div style={{ position: "absolute", left: x1, top: y, width: x2 - x1, height: 6, boxSizing: "border-box", borderTop: "1px solid #333", borderLeft: "1px solid #333", borderRight: "1px solid #333" }} />
    <T x={(x1 + x2) / 2} y={y - 5} s={11}>*</T>
  </>
);
const Letter = ({ x, y, children }: any) => <T x={x} y={y} s={20} a="l" c="#111">{children}</T>;
const eTick = (i: number) => 466 + (i + 1 - 0.02) * 23.75;

export default function App() {
  const specs = useMemo(buildSpecs, []);
  const refs = useRef<(HTMLCanvasElement | null)[]>([]);
  useEffect(() => {
    const charts = specs.map((s, i) => {
      const g = geometry(s);
      const cfg = s.config;
      cfg.options = {
        ...cfg.options,
        animation: false, responsive: false, maintainAspectRatio: false,
        layout: { autoPadding: false, padding: { left: 0, top: g.plotTop, right: g.padRight, bottom: 0 } },
        plugins: { legend: { display: false }, tooltip: { enabled: false }, title: { display: false } },
      };
      cfg.options.scales.x.afterFit = (sc: any) => { sc.height = g.bottomH; };
      cfg.options.scales.y.afterFit = (sc: any) => { sc.width = g.plotLeft; };
      return new Chart(refs.current[i] as HTMLCanvasElement, cfg);
    });
    return () => charts.forEach((c) => c.destroy());
  }, [specs]);

  return (
    <div style={{ position: "absolute", left: 0, top: 0, width: 742, height: 1001, background: "#fff", overflow: "hidden", fontFamily: FONT }}>
      {specs.map((s, i) => {
        const g = geometry(s);
        return (
          <canvas key={i} ref={(el) => { refs.current[i] = el; }} width={g.width} height={g.height}
            style={{ position: "absolute", left: g.left, top: g.top, width: g.width, height: g.height }} />
        );
      })}

      {/* A */}
      <Letter x={1} y={14}>A</Letter>
      <T x={88.7} y={45.7} s={11.5}>378</T>
      <T x={236.7} y={45.7} s={11.5}>424</T>
      <T x={88} y={189} s={11.5}>tSNE1</T>
      <T x={236} y={189} s={11.5}>tSNE1</T>
      <T x={8.3} y={110} s={11.5} r={-90}>tSNE2</T>
      <T x={155} y={110} s={11.5} r={-90}>tSNE2</T>
      {gateLabels378.map(([t, x, y]: any, i) => <T key={"a" + i} x={x} y={y} s={7.5} c="#333">{t}</T>)}
      {gateLabels424.map(([t, x, y]: any, i) => <T key={"b" + i} x={x} y={y} s={7.5} c="#333">{t}</T>)}

      {/* B */}
      <Letter x={302} y={14}>B</Letter>
      <T x={325} y={28.7} s={10.5} a="l">Heat map on t-SNE cluster</T>
      {heatRowNames.map((t, i) => (
        <T key={"r" + i} x={415} y={[46.7, 60, 71, 83, 95, 106, 118.3, 130][i]} s={11}>{t}</T>
      ))}
      <VRule x={422.7} y1={42.7} y2={86} />
      <T x={426.7} y={65.7} s={11} a="l">Tumor</T>
      <T x={427} y={95} s={11} a="l">NK</T>
      <T x={427} y={106} s={11} a="l">CD8</T>
      <T x={427} y={118.3} s={11} a="l">CD4</T>
      <T x={427} y={130} s={11} a="l">B</T>
      <T x={403} y={179} s={8.7}>Median intensity</T>

      {/* C */}
      <Letter x={485} y={14}>C</Letter>
      <T x={487} y={60} s={11.5} a="l">CD8 T cells</T>
      <T x={487} y={141} s={11.5} a="l">CD4 T cells</T>
      <VRule x={556.7} y1={29} y2={86} w={1.2} />
      <VRule x={556.7} y1={113} y2={168} w={1.2} />
      {["Naive", "Central memory", "Effector memory", "Naive", "Central memory", "Effector memory"].map((t, i) => (
        <T key={"c" + i} x={657} y={[39, 63, 85, 117, 141, 163][i]} s={11.5} a="l">{t}</T>
      ))}
      <T x={609.3} y={201.7} s={11.5}>ICOS</T>

      {/* D */}
      <Letter x={119} y={232}>D</Letter>
      <T x={140} y={332.3} s={11.5} r={-90}>sICOSLG (pg/ml)</T>
      <T x={296.7} y={408.3} s={11.5}>n.d.</T>
      <T x={343.7} y={408.3} s={11.5}>n.d.</T>
      <Rule x1={201} x2={255.7} y={446.3} />
      <Rule x1={293.3} x2={347.7} y={446.3} />
      <T x={227.3} y={464} s={12} c={LRED}>MES</T>
      <T x={313.3} y={464} s={12} c={LBLUE}>PN</T>

      {/* E */}
      <Letter x={391} y={232}>E</Letter>
      <T x={426} y={332.3} s={11.5} r={-90}>T Cell Numbers ×10<sup style={{ fontSize: 8, lineHeight: 0 }}>4</sup></T>
      <Bracket x1={514} x2={561.7} y={268.3} />
      <Bracket x1={561.3} x2={586} y={243.3} />
      <T x={472.3} y={437.7} a="r">OKT3 + IL-2</T>
      <T x={472.3} y={458.3} a="r">ICOS-Fc</T>
      <T x={472.3} y={475} a="r">GSC-CM</T>
      {icosFcRow.map((t, i) => <T key={"e" + i} x={eTick(i)} y={458.3}>{t}</T>)}
      {gscCmRow.map((t, i) => <T key={"g" + i} x={eTick(i)} y={475}>{t}</T>)}
      <Rule x1={558.3} x2={589} y={466.7} />
      <Rule x1={605.7} x2={636.7} y={466.7} />
      <T x={575} y={478} c={LRED}>MD13</T>
      <T x={621} y={478} c={LBLUE}>146</T>

      {/* F */}
      <Letter x={120.7} y={503}>F</Letter>
      <T x={136} y={607} s={11.5} r={-90}>IL-10 concentration (pg/ml)</T>
      <T x={201.7} y={685.7} s={11.5}>n.d.</T>
      <T x={232} y={685.7} s={11.5}>n.d.</T>
      <Bracket x1={255} x2={289} y={529} />
      <T x={179} y={711} a="r">ICOS-Fc</T>
      <Rule x1={189} x2={230.7} y={720.7} />
      <Rule x1={248.3} x2={290} y={720.7} />
      <Rule x1={306.7} x2={348.3} y={720.7} />
      <T x={214} y={733}>GSCs(–)</T>
      <T x={272.3} y={733} c={LRED}>MD13</T>
      <T x={331} y={733} c={LBLUE}>146</T>

      {/* G */}
      <Letter x={385} y={503}>G</Letter>
      <T x={407.3} y={608} s={11.5} r={-90}>IFN-γ concentration (pg/ml)</T>
      <Bracket x1={532.7} x2={566} y={525.7} />
      <T x={457.3} y={711} a="r">ICOS-Fc</T>
      <Rule x1={466} x2={508.3} y={721} />
      <Rule x1={525.3} x2={566.7} y={721} />
      <Rule x1={584} x2={625.7} y={721} />
      <T x={491.7} y={733}>GSCs(–)</T>
      <T x={549.7} y={733} c={LRED}>MD13</T>
      <T x={608.3} y={733} c={LBLUE}>146</T>

      {/* H */}
      <Letter x={51} y={763}>H</Letter>
      <T x={71.7} y={860} s={11.5} r={-90}>%CD4<sup style={{ fontSize: 8, lineHeight: 0 }}>+</sup>ICOS<sup style={{ fontSize: 8, lineHeight: 0 }}>+</sup>Foxp3<sup style={{ fontSize: 8, lineHeight: 0 }}>+</sup></T>
      <Bracket x1={200} x2={261} y={789} />
      <T x={101.7} y={958.3} a="r">OKT3 + IL-2</T>
      <T x={101.7} y={976.7} a="r">ICOS-Fc</T>
      <T x={101.7} y={995} a="r">GSC-CM</T>
      {hIcos.map((t, i) => <T key={"hi" + i} x={141.2 + i * 60} y={976.7}>{t}</T>)}
      {hGsc.map((t, i) => <T key={"hg" + i} x={141.2 + i * 60} y={995}>{t}</T>)}

      {/* I */}
      <Letter x={316} y={763}>I</Letter>
      <T x={331.7} y={863} s={12} r={-90}>IL-10 mRNA expression</T>
      <T x={445} y={970} s={12}>ICOSLG mRNA expression</T>
      <T x={452.7} y={793} s={11.5} a="l">Pearson 0.37</T>
      <T x={555.7} y={863} s={12} r={-90}>Foxp3 mRNA expression</T>
      <T x={660.7} y={970} s={12}>ICOSLG mRNA expression</T>
      <T x={671.7} y={793} s={11.5} a="l">Pearson 0.4</T>
    </div>
  );
}
